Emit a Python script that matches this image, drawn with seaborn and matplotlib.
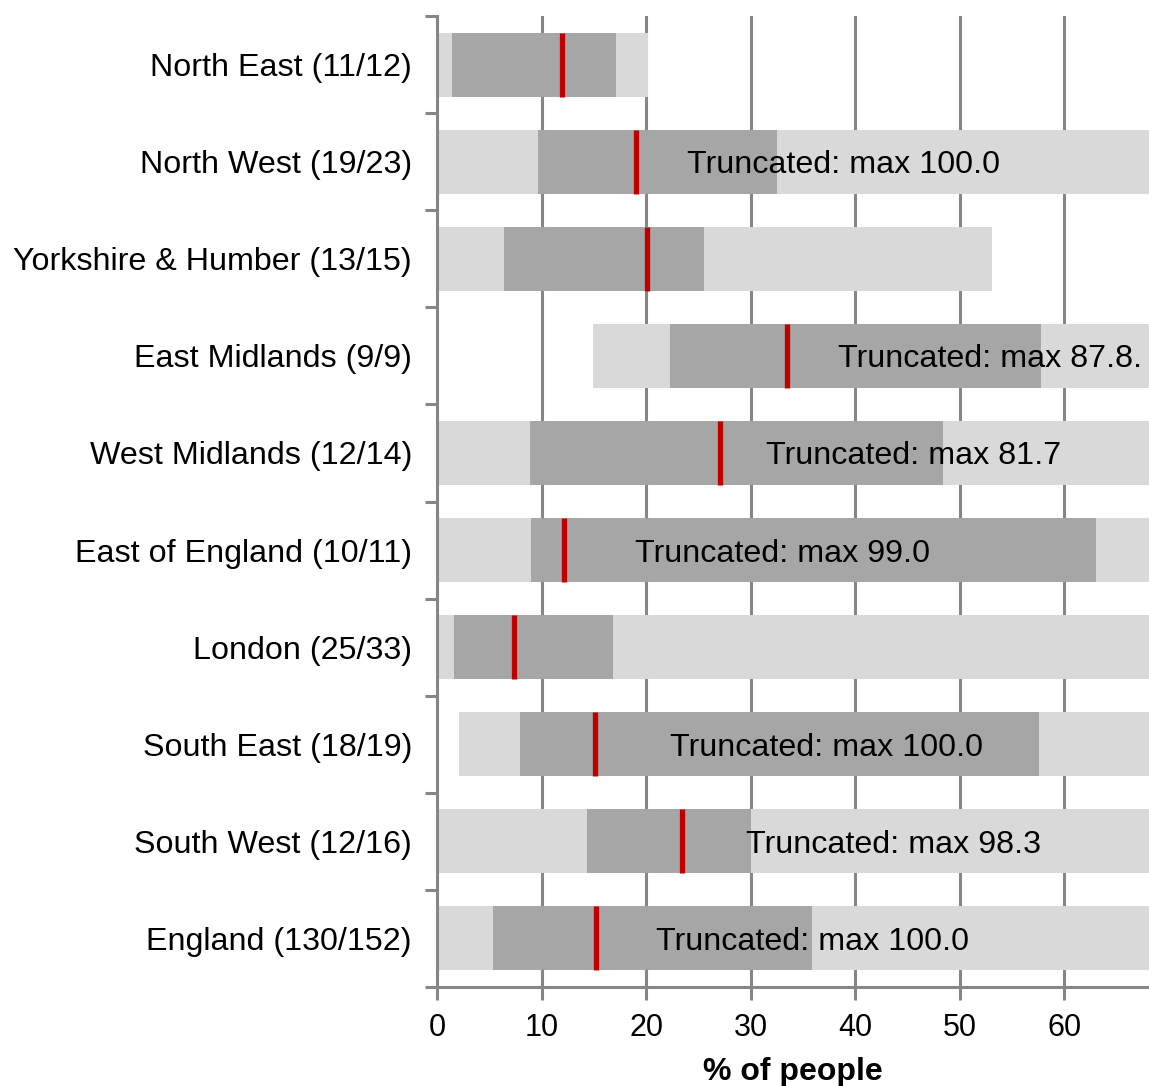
import matplotlib

matplotlib.use("Agg")

import matplotlib.pyplot as plt
import numpy as np
import seaborn as sns

sns.set_theme(style="white")
plt.rcParams["font.family"] = ["Liberation Sans", "DejaVu Sans"]

regions = [
    "North East (11/12)",
    "North West (19/23)",
    "Yorkshire & Humber (13/15)",
    "East Midlands (9/9)",
    "West Midlands (12/14)",
    "East of England (10/11)",
    "London (25/33)",
    "South East (18/19)",
    "South West (12/16)",
    "England (130/152)",
]
mins = [0.0, 0.0, 0.0, 14.9, 0.0, 0.0, 0.0, 2.1, 0.0, 0.0]
q1 = [1.4, 9.7, 6.4, 22.3, 8.9, 9.0, 1.6, 7.9, 14.3, 5.4]
medians = [12.0, 19.0, 20.1, 33.5, 27.1, 12.1, 7.4, 15.1, 23.4, 15.2]
q3 = [17.1, 32.5, 25.5, 57.8, 48.4, 63.0, 16.8, 57.6, 30.0, 35.9]
maxs = [20.2, 100.0, 53.1, 87.8, 81.7, 99.0, 70.0, 100.0, 98.3, 100.0]
labels = ["", "Truncated: max 100.0", "", "Truncated: max 87.8.",
          "Truncated: max 81.7", "Truncated: max 99.0", "",
          "Truncated: max 100.0", "Truncated: max 98.3", "Truncated: max 100.0"]
label_x = [0, 38.9, 0, 52.9, 45.6, 33.0, 0, 37.3, 43.7, 35.9]

XMAX = 68.1
GREY = "#868686"
LIGHT = "#d9d9d9"
DARK = "#a6a6a6"
RED = "#c00000"
FS = 23.2

fig = plt.figure(figsize=(11.49, 10.86), dpi=100)
ax = fig.add_axes([437 / 1149, 1 - 987 / 1086, 1 - 437 / 1149, (987 - 16) / 1086])

y = np.arange(len(regions))
h = 0.66
mins_a = np.array(mins)
maxs_a = np.clip(np.array(maxs), None, XMAX + 1)
q1_a = np.array(q1)
q3_a = np.array(q3)

ax.barh(y, maxs_a - mins_a, left=mins_a, height=h, color=LIGHT,
        edgecolor="none", linewidth=0, zorder=2)
ax.barh(y, q3_a - q1_a, left=q1_a, height=h, color=DARK,
        edgecolor="none", linewidth=0, zorder=3)
ax.vlines(medians, y - h / 2, y + h / 2, color=RED, lw=3.8, zorder=4)

for yi, lx, lab in zip(y, label_x, labels):
    if lab:
        ax.text(lx, yi, lab, ha="center", va="center_baseline", fontsize=FS,
                color="black", zorder=5)

ax.set_xlim(0, XMAX)
ax.set_ylim(len(regions) - 0.5, -0.5)
ax.set_xticks(range(0, 70, 10))
ax.set_yticks(y)
ax.set_yticklabels(regions, fontsize=FS, color="black")
ax.set_yticks(np.arange(-0.5, len(regions), 1.0), minor=True)
ax.tick_params(axis="y", which="major", left=False, length=0, pad=18)
ax.tick_params(axis="y", which="minor", left=True, length=9, width=2.2,
               color=GREY, direction="out")
ax.tick_params(axis="x", bottom=True, length=9, width=2.2, color=GREY,
               direction="out", labelsize=22, labelcolor="black", pad=10)

ax.grid(axis="x", color=GREY, lw=2.2, zorder=1)
ax.set_axisbelow(True)
for side in ["top", "right"]:
    ax.spines[side].set_visible(False)
for side in ["left", "bottom"]:
    ax.spines[side].set_color(GREY)
    ax.spines[side].set_linewidth(2.2)

ax.set_xlabel("% of people", fontsize=23, fontweight="bold", color="black",
              labelpad=10)

fig.savefig("out.png", dpi=100)
